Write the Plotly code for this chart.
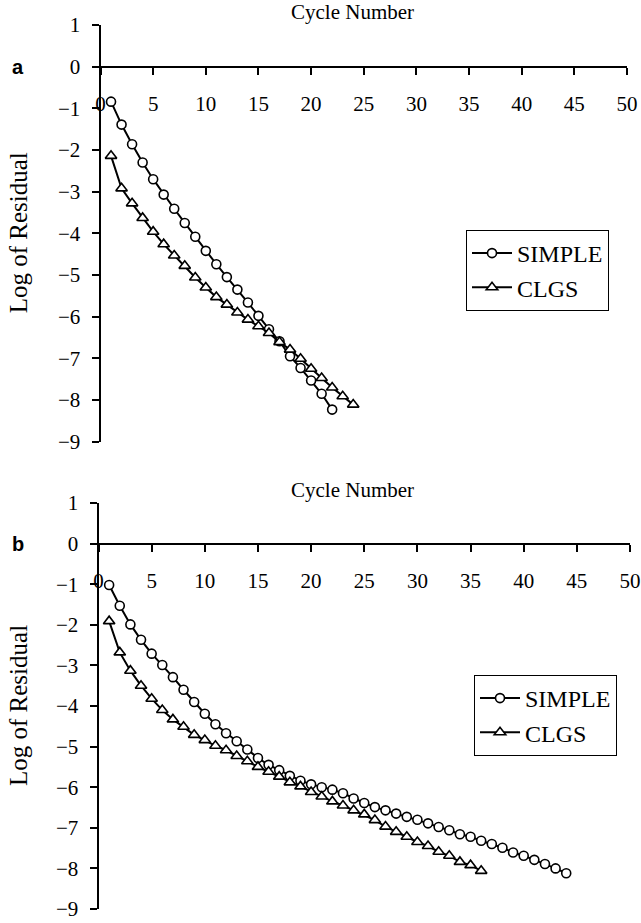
import plotly.graph_objects as go

# ---- data: log of residual vs. cycle number ----
cycles_a_simple = list(range(1, 23))
simple_a = [-0.84, -1.39, -1.86, -2.30, -2.70, -3.07, -3.41, -3.75, -4.08, -4.42,
            -4.74, -5.05, -5.35, -5.66, -5.98, -6.30, -6.59, -6.95, -7.23, -7.53,
            -7.85, -8.23]
cycles_a_clgs = list(range(1, 25))
clgs_a = [-2.14, -2.92, -3.28, -3.63, -3.96, -4.26, -4.53, -4.78, -5.06, -5.30,
          -5.53, -5.71, -5.90, -6.07, -6.23, -6.39, -6.61, -6.79, -7.01, -7.25,
          -7.47, -7.70, -7.91, -8.11]

cycles_b_simple = list(range(1, 45))
simple_b = [-1.02, -1.53, -1.99, -2.37, -2.71, -2.99, -3.29, -3.60, -3.90, -4.19,
            -4.45, -4.67, -4.87, -5.07, -5.28, -5.45, -5.58, -5.72, -5.84, -5.93,
            -6.00, -6.06, -6.15, -6.28, -6.39, -6.49, -6.57, -6.65, -6.73, -6.80,
            -6.89, -6.98, -7.06, -7.16, -7.22, -7.32, -7.40, -7.49, -7.61, -7.69,
            -7.79, -7.89, -8.00, -8.12]
cycles_b_clgs = list(range(1, 37))
clgs_b = [-1.91, -2.68, -3.13, -3.50, -3.82, -4.10, -4.33, -4.51, -4.71, -4.84,
          -4.98, -5.09, -5.23, -5.36, -5.50, -5.62, -5.74, -5.88, -5.98, -6.12,
          -6.23, -6.35, -6.45, -6.57, -6.67, -6.81, -6.97, -7.10, -7.22, -7.35,
          -7.45, -7.59, -7.69, -7.84, -7.92, -8.06]

x_ticks = list(range(0, 51, 5))
y_ticks = list(range(-9, 2))
x_range = [0, 50]
y_range = [-9, 1]

panel_labels = ["a", "b"]
x_title = "Cycle Number"
y_title = "Log of Residual"
series_names = ["SIMPLE", "CLGS"]

# ---- page geometry (pixels) ----
W, H = 641, 923
SERIF = "Liberation Serif, Times New Roman, serif"
panels = [
    dict(xpx=(100.5, 627.0), ypx=(25.0, 441.7)),
    dict(xpx=(98.5, 630.0), ypx=(503.0, 909.0)),
]


def xfrac(px):
    return px / W


def yfrac(px):
    return 1 - px / H


fig = go.Figure()
layout = dict(
    width=W, height=H, template="none",
    margin=dict(l=0, r=0, t=0, b=0),
    paper_bgcolor="white", plot_bgcolor="white",
    showlegend=True,
    font=dict(family=SERIF, size=21, color="black"),
)

annotations = []
for i, p in enumerate(panels):
    n = i + 1
    xa, ya = ("x", "y") if n == 1 else ("x2", "y2")
    xdom = [xfrac(p["xpx"][0]), xfrac(p["xpx"][1])]
    ydom = [yfrac(p["ypx"][1]), yfrac(p["ypx"][0])]
    # paper position of the y = 0 line, where the cycle axis sits
    zero_pos = ydom[0] + (0 - y_range[0]) / (y_range[1] - y_range[0]) * (ydom[1] - ydom[0])

    common_x = dict(range=x_range, tickvals=x_ticks, showgrid=False, zeroline=False,
                    tickcolor="black", tickwidth=1.6, ticklen=7)
    common_y = dict(range=y_range, tickvals=y_ticks, showgrid=False, zeroline=False,
                    tickcolor="black", tickwidth=1.6, ticklen=7)

    # main axes carry the line, the outer half of each tick and the labels;
    # the overlays add the inner half so the ticks cross the axis lines
    layout[f"xaxis{'' if n == 1 else n}"] = dict(
        domain=xdom, anchor="free", position=zero_pos, side="bottom",
        ticks="outside", showline=True, linecolor="black", linewidth=2,
        showticklabels=True, ticklabelstandoff=11, ticklabeloverflow="allow",
        tickfont=dict(family=SERIF, size=21), **common_x)
    layout[f"xaxis{n + 2}"] = dict(
        overlaying=xa, anchor="free", position=zero_pos, side="bottom",
        ticks="inside", showline=False, showticklabels=False, **common_x)
    layout[f"yaxis{'' if n == 1 else n}"] = dict(
        domain=ydom, anchor=xa, side="left",
        ticks="outside", showline=True, linecolor="black", linewidth=2,
        showticklabels=True, ticklabelstandoff=7, ticklabeloverflow="allow",
        tickfont=dict(family=SERIF, size=21), **common_y)
    layout[f"yaxis{n + 2}"] = dict(
        overlaying=ya, anchor=xa, side="left",
        ticks="inside", showline=False, showticklabels=False, **common_y)

    series = [(cycles_a_simple, simple_a, cycles_a_clgs, clgs_a),
              (cycles_b_simple, simple_b, cycles_b_clgs, clgs_b)][i]
    legend_id = "legend" if n == 1 else "legend2"
    for k, (xs, ys, sym, size) in enumerate([(series[0], series[1], "circle", 9),
                                             (series[2], series[3], "triangle-up", 10)]):
        fig.add_trace(go.Scatter(
            x=xs, y=ys, xaxis=xa, yaxis=ya, mode="lines+markers",
            name=series_names[k], legend=legend_id, legendgroup=f"{n}{k}",
            line=dict(color="black", width=2),
            marker=dict(symbol=sym, size=size, color="white",
                        line=dict(color="black", width=1.6)),
        ))

    annotations.append(dict(
        text=x_title, xref="paper", yref="paper",
        x=xfrac(352), y=yfrac(p["ypx"][0] - 13), xanchor="center", yanchor="middle",
        showarrow=False, font=dict(family=SERIF, size=21)))
    annotations.append(dict(
        text=y_title, xref="paper", yref="paper", textangle=-90,
        x=xfrac(18), y=(ydom[0] + ydom[1]) / 2, xanchor="center", yanchor="middle",
        showarrow=False, font=dict(family=SERIF, size=25)))
    annotations.append(dict(
        text=f"<b>{panel_labels[i]}</b>", xref="paper", yref="paper",
        x=xfrac(18), y=zero_pos, xanchor="center", yanchor="middle",
        showarrow=False, font=dict(family="Liberation Sans, Arial, sans-serif", size=20)))

legend_style = dict(bgcolor="white", bordercolor="black", borderwidth=1,
                    font=dict(family=SERIF, size=24), tracegroupgap=0,
                    xanchor="left", yanchor="top", itemwidth=40)
layout["legend"] = dict(x=xfrac(466), y=yfrac(230), **legend_style)
layout["legend2"] = dict(x=xfrac(474), y=yfrac(675), **legend_style)
layout["annotations"] = annotations

fig.update_layout(**layout)
fig.write_html("out.html")
